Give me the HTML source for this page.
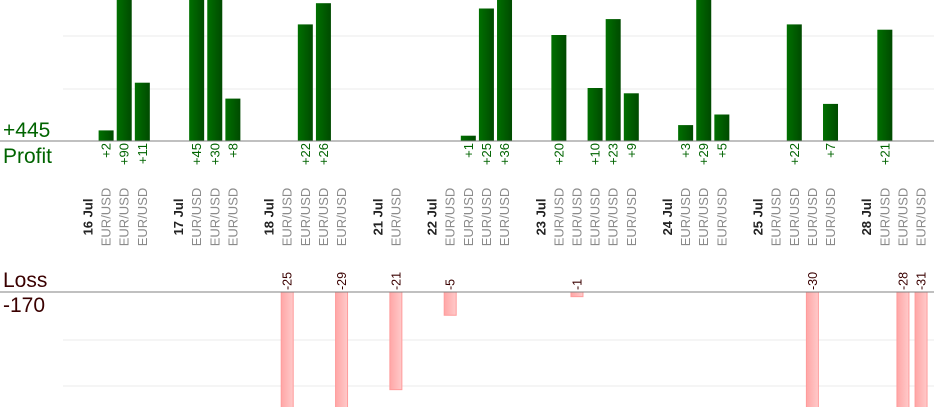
<!DOCTYPE html>
<html><head><meta charset="utf-8"><style>
html,body{margin:0;padding:0;background:#fff;width:934px;height:420px;overflow:hidden}
svg{display:block;font-family:"Liberation Sans",sans-serif}
</style></head><body>
<svg id="c" width="934" height="420">
<defs>
<linearGradient id="gp" x1="0" x2="1"><stop offset="0" stop-color="#007000"/><stop offset="1" stop-color="#004a00"/></linearGradient>
<linearGradient id="gl" x1="0" x2="1"><stop offset="0" stop-color="#ffa6a6"/><stop offset="1" stop-color="#ffcaca"/></linearGradient>
<clipPath id="cp"><rect x="0" y="0" width="934" height="141"/></clipPath>
<clipPath id="cl"><rect x="0" y="292" width="934" height="115"/></clipPath>
</defs>
<g>
<line x1="63" x2="934" y1="36" y2="36" stroke="#ebebeb"/>
<line x1="63" x2="934" y1="89" y2="89" stroke="#ebebeb"/>
</g>
<g>
<line x1="63" x2="934" y1="340" y2="340" stroke="#ebebeb"/>
<line x1="63" x2="934" y1="386" y2="386" stroke="#ebebeb"/>
</g>
<text x="3" y="137" font-size="21" fill="#006400">+445</text>
<text x="3" y="163" font-size="21" fill="#006400">Profit</text>
<text x="3" y="287" font-size="21" fill="#3a0000">Loss</text>
<text x="3" y="312" font-size="21" fill="#3a0000">-170</text>
<g id="marks"></g>
<line x1="0" x2="934" y1="141" y2="141" stroke="#808080"/>
<line x1="0" x2="934" y1="292" y2="292" stroke="#808080"/>
</svg>
<script>
const dates = [["16 Jul",0],["17 Jul",5],["18 Jul",10],["21 Jul",16],["22 Jul",19],["23 Jul",25],["24 Jul",32],["25 Jul",37],["28 Jul",43]];
const tradeSlots = [1,2,3,6,7,8,11,12,13,14,17,20,21,22,23,26,27,28,29,30,33,34,35,38,39,40,41,44,45,46];
const profitSlots = [1,2,3,6,7,8,12,13,21,22,23,26,28,29,30,33,34,35,39,41,44];
const profitValues = [2,90,11,45,30,8,22,26,1,25,36,20,10,23,9,3,29,5,22,7,21];
const lossSlots = [11,14,17,20,27,40,45,46];
const lossValues = [-25,-29,-21,-5,-1,-30,-28,-31];

const NS="http://www.w3.org/2000/svg";
const g=document.getElementById('marks');
const xs=i=>88+i*18.11;
const yp=v=>141-v*5.3;
const yl=v=>292+Math.abs(v)*4.65;
function mk(t,a,p){const e=document.createElementNS(NS,t);for(const k in a)e.setAttribute(k,a[k]);(p||g).appendChild(e);return e;}
const pg=mk('g',{'clip-path':'url(#cp)'});
const lg=mk('g',{'clip-path':'url(#cl)'});
profitSlots.forEach((s,i)=>{
  const v=profitValues[i],x=xs(s);
  const r=mk('rect',{x:x-7.5,y:yp(v),width:15,height:141-yp(v),fill:'url(#gp)'},pg);
  
  
  const t=mk('text',{transform:`translate(${x+4.5},143) rotate(-90)`,'text-anchor':'end','font-size':13,fill:'#006400'});
  t.textContent='+'+v;
  
  
});
lossSlots.forEach((s,i)=>{
  const v=lossValues[i],x=xs(s);
  const r=mk('rect',{x:x-6,y:292,width:12,height:yl(v)-292,fill:'url(#gl)',stroke:'#ff9c9c','stroke-width':1},lg);
  
  
  const t=mk('text',{transform:`translate(${x+4.5},290) rotate(-90)`,'text-anchor':'start','font-size':12.5,fill:'#3a0000'});
  t.textContent=String(v);
  
  
});
dates.forEach(d=>{
  const x=xs(d[1]);
  const t=mk('text',{transform:`translate(${x+4.5},217) rotate(-90)`,'text-anchor':'middle','font-size':13,'font-weight':'bold',fill:'#222'});
  t.textContent=d[0];
  
  
});
tradeSlots.forEach(s=>{
  const x=xs(s);
  const t=mk('text',{transform:`translate(${x+4.5},217) rotate(-90)`,'text-anchor':'middle','font-size':13,fill:'#8a8a8a'});
  t.textContent='EUR/USD';
  
  
});
</script>
</body></html>
